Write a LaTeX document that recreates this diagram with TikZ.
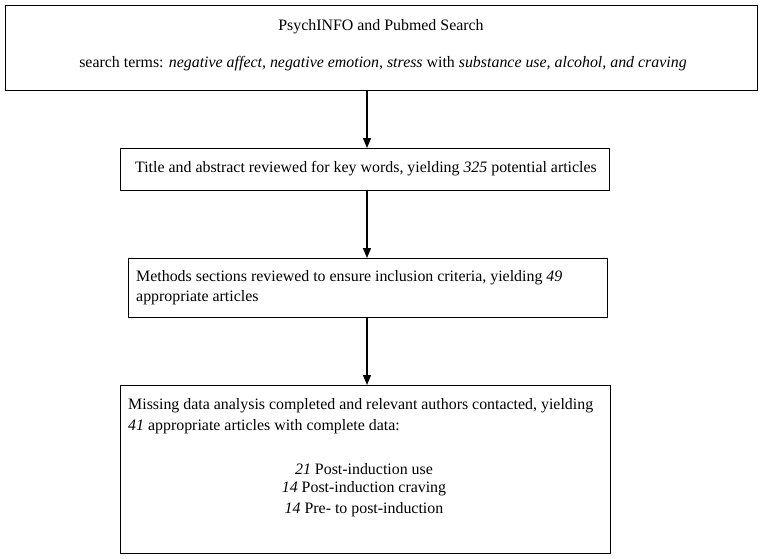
\documentclass[tikz,border=0pt]{standalone}
\usepackage{fontspec}
\setmainfont{Liberation Serif}
\usetikzlibrary{arrows.meta}
\begin{document}
\begin{tikzpicture}[x=1pt,y=-1pt,
  box/.style={draw,line width=0.9pt},
  arr/.style={-{Triangle[length=10pt,width=8pt]},line width=1.3pt},
  txt/.style={inner sep=0pt,anchor=west,font=\fontsize{15.9}{18}\selectfont}]
\useasboundingbox (0,0) rectangle (762,558);
\draw[box] (5,5) rectangle (757,90);
\node[txt,anchor=center] (t1) at (381,27) {PsychINFO and Pubmed Search};
\node[txt,anchor=center] (t1b) at (383,64) {search terms: \textit{negative affect, negative emotion, stress} with \textit{substance use, alcohol, and craving}};
\draw[box] (120,148) rectangle (609,190);
\node[txt,anchor=center] (t2) at (366,169) {Title and abstract reviewed for key words, yielding \textit{325} potential articles};
\draw[box] (128,258) rectangle (607,317);
\node[txt] (t3) at (136,278) {Methods sections reviewed to ensure inclusion criteria, yielding \textit{49}};
\node[txt] (t3b) at (136,298) {appropriate articles};
\draw[box] (120,385) rectangle (610,553);
\node[txt] (t4) at (128,406) {Missing data analysis completed and relevant authors contacted, yielding};
\node[txt] (t4b) at (128,427) {\textit{41} appropriate articles with complete data:};
\node[txt,anchor=center] (l1) at (364,469) {\textit{21} Post-induction use};
\node[txt,anchor=center] (l2) at (364,489) {\textit{14} Post-induction craving};
\node[txt,anchor=center] (l3) at (364,510) {\textit{14} Pre- to post-induction};
\coordinate (a1) at (367,90); \coordinate (b1) at (367,148);
\coordinate (a2) at (367,190); \coordinate (b2) at (367,258);
\coordinate (a3) at (367,317); \coordinate (b3) at (367,385);
\draw[arr] (a1) -- (b1);
\draw[arr] (a2) -- (b2);
\draw[arr] (a3) -- (b3);
\end{tikzpicture}
\end{document}
